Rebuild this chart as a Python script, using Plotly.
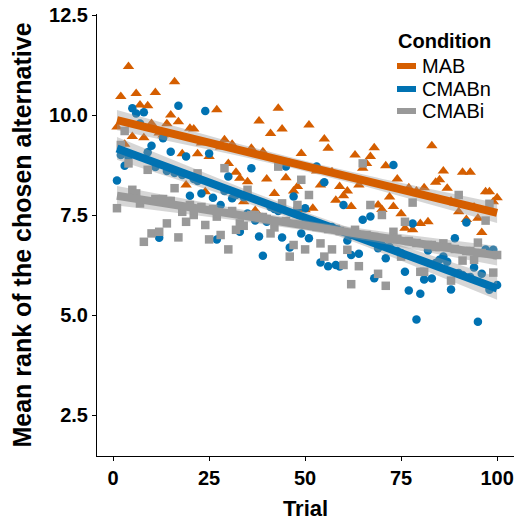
import numpy as np
import plotly.graph_objects as go

# ---- data ----
mab_trial = [1, 2, 3, 4, 5, 6, 7, 8, 9, 10, 11, 12, 13, 14, 15, 16, 17, 18, 19, 20,
             21, 22, 23, 24, 25, 27, 28, 29, 30, 31, 32, 33, 34, 35, 36, 37, 38, 39, 40,
             41, 42, 43, 44, 45, 46, 47, 48, 49, 50, 51, 52, 53, 54, 55, 56, 57, 58, 59,
             60, 61, 62, 63, 64, 65, 66, 67, 68, 69, 70, 71, 72, 73, 74, 75, 76, 77, 78,
             79, 80, 81, 82, 83, 84, 85, 86, 87, 88, 89, 90, 91, 92, 93, 94, 95, 96, 97,
             98, 99, 100]
mab_value = [9.70, 10.46, 9.27, 11.21, 9.46, 10.54, 10.25, 9.43, 10.23, 9.79, 10.56, 9.55,
             9.50, 9.78, 10.00, 10.83, 9.83, 9.03, 8.25, 9.67,
             9.65, 9.03, 9.30, 8.08, 8.96, 10.13, 9.20, 9.38, 8.79, 9.27, 8.57, 8.42, 7.83,
             8.33, 9.17, 7.61, 9.85, 9.08, 8.40,
             9.54, 8.04, 10.17, 9.65, 8.43, 8.80, 8.10, 8.21, 9.04, 7.63, 9.75, 7.67, 8.60,
             8.25, 9.40, 9.17, 8.58, 7.87, 8.21,
             7.98, 8.10, 7.71, 9.00, 8.25, 8.67, 8.79, 8.96, 9.18, 7.75, 7.64, 8.73, 7.95,
             7.71, 8.40, 7.53, 7.17, 8.18, 7.13,
             8.10, 7.29, 8.18, 7.33, 9.23, 8.32, 8.38, 8.60, 8.17, 7.85, 7.80, 7.58, 8.57,
             7.39, 8.57, 7.70, 7.42, 7.06, 8.08,
             8.08, 7.83, 7.93]

cmabn_trial = [1, 2, 3, 4, 5, 6, 7, 8, 9, 10, 11, 12, 13, 14, 15, 16, 17, 18, 19, 20,
               21, 22, 23, 24, 25, 26, 27, 28, 29, 30, 31, 32, 33, 34, 35, 36, 37, 38, 39, 40,
               41, 42, 43, 44, 45, 46, 47, 48, 49, 50, 51, 52, 53, 54, 55, 56, 57, 58, 59, 60,
               61, 62, 63, 64, 65, 66, 67, 68, 69, 70, 71, 72, 73, 74, 75, 76, 77, 78, 79, 80,
               81, 82, 83, 84, 85, 86, 87, 88, 89, 90, 91, 92, 93, 94, 95, 96, 97, 98, 99, 100]
cmabn_value = [8.36, 9.00, 8.73, 8.95, 10.17, 10.04, 9.79, 10.07, 9.07, 9.23,
               8.70, 6.93, 9.42, 8.60, 9.08, 8.55, 10.23, 8.50, 8.96, 7.98,
               8.40, 8.35, 8.04, 10.10, 9.04, 7.93, 6.89, 7.75, 8.10, 8.46,
               7.92, 8.00, 7.08, 7.95, 7.54, 8.67, 7.36, 6.96, 6.48, 7.33,
               7.70, 7.65, 7.60, 6.94, 8.71, 6.69, 7.96, 7.67, 7.04, 7.67,
               6.92, 7.35, 8.71, 6.31, 8.32, 6.22, 7.20, 6.25, 6.21, 7.75,
               6.86, 6.50, 7.00, 6.53, 7.38, 6.90, 7.46, 5.92, 6.67, 6.75,
               6.42, 6.70, 8.75, 6.60, 6.55, 6.08, 5.61, 7.29, 4.89, 5.53,
               5.89, 6.61, 5.91, 6.30, 6.38, 6.46, 6.33, 5.64, 6.92, 6.05,
               6.00, 7.31, 5.95, 6.19, 4.83, 6.03, 6.64, 5.63, 6.63, 5.75]

cmabi_trial = cmabn_trial
cmabi_value = [7.67, 9.25, 9.60, 8.79, 8.13, 8.04, 7.79, 6.83, 8.63, 7.04,
               7.90, 7.08, 7.90, 7.29, 7.85, 8.17, 6.94, 7.58, 7.33, 7.75,
               7.50, 8.54, 7.70, 7.25, 6.89, 7.65, 7.46, 7.00, 8.67, 6.64,
               7.60, 7.13, 7.29, 7.23, 8.13, 7.50, 7.50, 7.45, 7.45, 7.40,
               7.04, 7.19, 8.71, 7.79, 7.35, 6.46, 6.75, 7.75, 8.38, 6.64,
               8.00, 7.25, 7.20, 6.79, 6.46, 7.15, 6.64, 7.15, 7.10, 6.25,
               6.63, 5.77, 7.13, 6.22, 8.79, 7.00, 7.75, 6.95, 6.03, 7.50,
               5.73, 6.90, 7.08, 6.90, 6.46, 7.33, 6.85, 7.81, 6.80, 6.08,
               6.08, 6.75, 6.75, 6.70, 6.70, 6.79, 6.70, 5.86, 6.65, 8.00,
               6.36, 6.60, 6.60, 6.38, 6.81, 6.55, 7.36, 7.78, 6.06, 6.50]

conditions = ["MAB", "CMABn", "CMABi"]
legend_title = "Condition"
x_ticks = [0, 25, 50, 75, 100]
y_ticks = [2.5, 5.0, 7.5, 10.0, 12.5]

series = {
    "MAB": (mab_trial, mab_value, "#D55E00", "triangle-up", 10),
    "CMABn": (cmabn_trial, cmabn_value, "#0072B2", "circle", 8.5),
    "CMABi": (cmabi_trial, cmabi_value, "#999999", "square", 8.5),
}

FONT = "Liberation Sans, Arial, sans-serif"
W, H = 514, 521
ML, MR, MT, MB = 97, 0, 14, 65
PW, PH = W - ML - MR, H - MT - MB


def px_x(p):
    return (p - ML) / PW


def px_y(p):
    return (H - MB - p) / PH


fig = go.Figure()

# points
for name in conditions:
    tx, vy, col, sym, sz = series[name]
    fig.add_trace(go.Scatter(x=tx, y=vy, mode="markers",
                             marker=dict(symbol=sym, size=sz, color=col, line=dict(width=0)),
                             name=name, showlegend=False, hoverinfo="x+y"))

# linear fits with 95% confidence bands
TQ = 1.984
for name in conditions:
    tx, vy, col, sym, sz = series[name]
    x = np.array(tx, float)
    y = np.array(vy, float)
    b, a = np.polyfit(x, y, 1)
    xs = np.linspace(x.min(), x.max(), 80)
    fit = a + b * xs
    resid = y - (a + b * x)
    n = len(x)
    s = np.sqrt(np.sum(resid ** 2) / (n - 2))
    se = s * np.sqrt(1 / n + (xs - x.mean()) ** 2 / np.sum((x - x.mean()) ** 2))
    upper = fit + TQ * se
    lower = fit - TQ * se
    fig.add_trace(go.Scatter(x=np.concatenate([xs, xs[::-1]]),
                             y=np.concatenate([upper, lower[::-1]]),
                             fill="toself", fillcolor="rgba(153,153,153,0.4)",
                             line=dict(width=0), mode="lines",
                             showlegend=False, hoverinfo="skip"))
    fig.add_trace(go.Scatter(x=xs, y=fit, mode="lines",
                             line=dict(color=col, width=8),
                             name=name, showlegend=False))

# legend (drawn manually to match the compact ggplot legend)
shapes = []
annotations = [dict(text=f"<b>{legend_title}</b>", x=px_x(396), y=px_y(41),
                    xref="paper", yref="paper", xanchor="left", yanchor="middle",
                    showarrow=False, font=dict(size=20, family=FONT, color="black"))]
row_y = [66, 89, 111]
for name, ry in zip(conditions, row_y):
    col = series[name][2]
    shapes.append(dict(type="rect", xref="paper", yref="paper",
                       x0=px_x(397), x1=px_x(416), y0=px_y(ry + 3), y1=px_y(ry - 3),
                       fillcolor=col, line=dict(width=0)))
    annotations.append(dict(text=name, x=px_x(420), y=px_y(ry),
                            xref="paper", yref="paper", xanchor="left", yanchor="middle",
                            showarrow=False, font=dict(size=20, family=FONT, color="black")))

fig.update_layout(
    width=W, height=H,
    margin=dict(l=ML, r=MR, t=MT, b=MB),
    plot_bgcolor="white", paper_bgcolor="white",
    font=dict(family=FONT, color="black"),
    showlegend=False,
    shapes=shapes, annotations=annotations,
    xaxis=dict(
        range=[-4.2, 104.4], tickvals=x_ticks, ticktext=[f"<b>{v}</b>" for v in x_ticks],
        showgrid=False, zeroline=False, showline=True, linecolor="black", linewidth=1,
        ticks="outside", ticklen=4, tickcolor="black",
        tickfont=dict(size=20, family=FONT, color="black"),
        title=dict(text="<b>Trial</b>", font=dict(size=22, family=FONT), standoff=14),
    ),
    yaxis=dict(
        range=[1.475, 12.525], tickvals=y_ticks, ticktext=[f"<b>{v:.1f}</b>" for v in y_ticks],
        showgrid=False, zeroline=False, showline=True, linecolor="black", linewidth=1,
        ticks="outside", ticklen=4, tickcolor="black",
        tickfont=dict(size=20, family=FONT, color="black"),
        title=dict(text="<b>Mean rank of the chosen alternative</b>",
                   font=dict(size=25, family=FONT), standoff=10),
    ),
)

fig.write_html("out.html")
